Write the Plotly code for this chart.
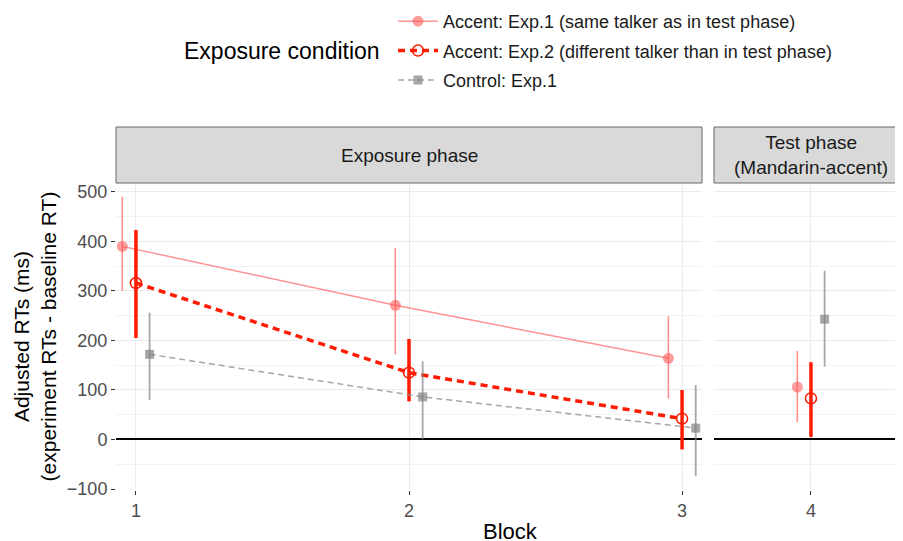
import plotly.graph_objects as go

# ---- data ----
blocks = [1, 2, 3, 4]
exp1_mean = [390, 271, 164, 106]
exp1_hi = [490, 387, 249, 179]
exp1_lo = [300, 172, 83, 35]

exp2_mean = [316, 135, 42, 83]
exp2_hi = [423, 203, 100, 156]
exp2_lo = [205, 77, -20, 5]

ctrl_mean = [172, 86, 23, 243]
ctrl_hi = [256, 158, 110, 341]
ctrl_lo = [80, 0, -74, 147]

series_names = ["Accent: Exp.1 (same talker as in test phase)",
                "Accent: Exp.2 (different talker than in test phase)",
                "Control: Exp.1"]
y_ticks = [-100, 0, 100, 200, 300, 400, 500]

FONT = "Liberation Sans, Arial, Helvetica, sans-serif"
OFF = 8  # page body margin in the browser
W, H = 903 - OFF, 541 - OFF
L, R, T, B = 108, 0, 175, 51
PW = W - L - R
PH = H - T - B


def px_x(p):
    """reference-image pixel x -> paper coordinate"""
    return (p - OFF - L) / PW


def px_y(p):
    """reference-image pixel y -> paper coordinate"""
    return (H - B - (p - OFF)) / PH


fig = go.Figure()

styles = [
    dict(name=series_names[0], mean=exp1_mean, hi=exp1_hi, lo=exp1_lo, off=-0.05,
         line=dict(color="rgba(255,110,110,0.75)", width=1.5, dash="solid"),
         marker=dict(symbol="circle", size=11, color="rgba(255,90,90,0.6)",
                     line=dict(width=0)),
         err=dict(color="rgba(255,110,110,0.8)", thickness=1.5)),
    dict(name=series_names[1], mean=exp2_mean, hi=exp2_hi, lo=exp2_lo, off=0.0,
         line=dict(color="#FF1A00", width=3.5, dash="7px,5px"),
         marker=dict(symbol="circle-open", size=11, color="#FF1A00",
                     line=dict(width=1.5, color="#FF1A00")),
         err=dict(color="#FF1A00", thickness=3.5)),
    dict(name=series_names[2], mean=ctrl_mean, hi=ctrl_hi, lo=ctrl_lo, off=0.05,
         line=dict(color="rgba(150,150,150,0.85)", width=1.5, dash="6px,4px"),
         marker=dict(symbol="square", size=9, color="rgba(130,130,130,0.7)",
                     line=dict(width=0)),
         err=dict(color="rgba(130,130,130,0.7)", thickness=1.8)),
]

for i, s in enumerate(styles):
    xs = [b + s["off"] for b in blocks]
    up = [h - m for h, m in zip(s["hi"], s["mean"])]
    dn = [m - l for m, l in zip(s["mean"], s["lo"])]
    # exposure phase (blocks 1-3)
    fig.add_trace(go.Scatter(
        x=xs[:3], y=s["mean"][:3], mode="lines+markers", name=s["name"],
        legendgroup=f"g{i}", showlegend=True,
        line=s["line"], marker=s["marker"],
        error_y=dict(type="data", symmetric=False, array=up[:3], arrayminus=dn[:3],
                     color=s["err"]["color"], thickness=s["err"]["thickness"], width=0),
        xaxis="x", yaxis="y"))
    # test phase (block 4)
    fig.add_trace(go.Scatter(
        x=xs[3:], y=s["mean"][3:], mode="markers", name=s["name"],
        legendgroup=f"g{i}", showlegend=False,
        marker=s["marker"],
        error_y=dict(type="data", symmetric=False, array=up[3:], arrayminus=dn[3:],
                     color=s["err"]["color"], thickness=s["err"]["thickness"], width=0),
        xaxis="x2", yaxis="y2"))

yr = [-102, 518]
grid = "#EBEBEB"
d1 = [0, px_x(702)]
d2 = [px_x(714), 1]
TICKFONT = dict(size=18, color="#4D4D4D", family=FONT)

common_y = dict(range=yr, tickvals=y_ticks, showgrid=True, gridcolor=grid, gridwidth=1.2,
                zeroline=True, zerolinecolor="#000000", zerolinewidth=1.5,
                minor=dict(dtick=50, tick0=50, showgrid=True, gridcolor="#F2F2F2", gridwidth=0.8),
                showline=False, automargin=False)

common_x = dict(showgrid=True, gridcolor=grid, gridwidth=1.2, zeroline=False,
                ticks="outside", ticklen=4, tickcolor="#333333", tickwidth=1,
                tickfont=TICKFONT, automargin=False)

fig.update_layout(
    width=W, height=H,
    margin=dict(l=L, r=R, t=T, b=B, autoexpand=False),
    paper_bgcolor="white", plot_bgcolor="white",
    font=dict(family=FONT, color="#000000"),
    xaxis=dict(domain=d1, range=[0.927, 3.073], tickvals=[1, 2, 3], **common_x),
    xaxis2=dict(domain=d2, range=[3.645, 4.337], tickvals=[4], **common_x),
    yaxis=dict(**common_y, anchor="x",
               ticks="outside", ticklen=4, tickcolor="#333333", tickwidth=1,
               tickfont=TICKFONT,
               title=dict(text="Adjusted RTs (ms)<br>(experiment RTs - baseline RT)",
                          font=dict(size=21, family=FONT, color="#000000"), standoff=4)),
    yaxis2=dict(**common_y, anchor="x2", matches="y", showticklabels=False),
    legend=dict(x=px_x(393), y=px_y(3), xanchor="left", yanchor="top",
                font=dict(size=18, family=FONT, color="#1A1A1A"),
                bgcolor="rgba(0,0,0,0)", itemwidth=40, tracegroupgap=3,
                traceorder="grouped"),
    showlegend=True,
)

# legend title
fig.add_annotation(text="Exposure condition", xref="paper", yref="paper",
                   x=px_x(382), y=px_y(51), xanchor="right", yanchor="middle",
                   showarrow=False, font=dict(size=23, family=FONT, color="#000000"))

# x-axis title
fig.add_annotation(text="Block", xref="paper", yref="paper",
                   x=px_x(511), y=px_y(531), xanchor="center", yanchor="middle",
                   showarrow=False, font=dict(size=22, family=FONT, color="#000000"))

# strips
strip_top = px_y(127)
for (x0, x1, xc), label in [((116, 702, 409), "Exposure phase"),
                            ((714, 915, 811), "Test phase<br>(Mandarin-accent)")]:
    fig.add_shape(type="rect", xref="paper", yref="paper",
                  x0=px_x(x0), x1=px_x(x1), y0=1, y1=strip_top,
                  fillcolor="#D9D9D9", line=dict(color="#666666", width=1))
    fig.add_annotation(text=label, xref="paper", yref="paper",
                       x=px_x(xc), y=(1 + strip_top) / 2, xanchor="center", yanchor="middle",
                       showarrow=False, font=dict(size=19, family=FONT, color="#1A1A1A"))

fig.write_html("out.html")
